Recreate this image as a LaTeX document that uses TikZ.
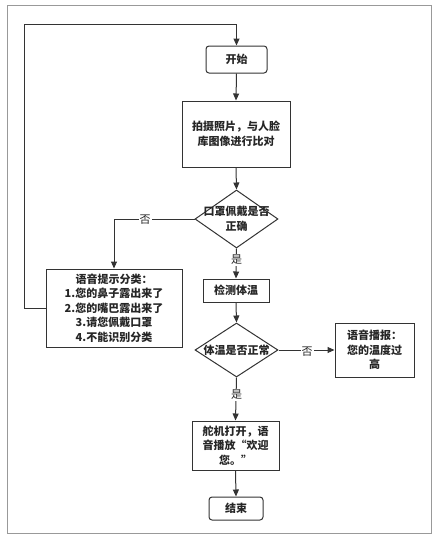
\documentclass[tikz,border=0pt]{standalone}
\usepackage{fontspec}
\setmainfont{Noto Sans CJK SC}
\usetikzlibrary{arrows.meta,shapes.geometric}
\definecolor{ln}{HTML}{333333}
\begin{document}
\begin{tikzpicture}[x=1pt,y=-1pt,
  every node/.style={font=\fontsize{11}{14.5}\selectfont\bfseries, text=black!85},
  box/.style={draw=ln, line width=1pt, inner sep=0pt, align=center},
  rbox/.style={box, rounded corners=3pt},
  dia/.style={draw=ln, line width=1pt, diamond, inner sep=0pt},
  conn/.style={draw=ln, line width=1pt, -{Triangle[length=7pt,width=6pt]}},
  lbl/.style={fill=white, inner sep=1pt, font=\fontsize{11}{13}\selectfont}]
\useasboundingbox (0,0) rectangle (439,541);
\draw[draw=gray!80, line width=1pt] (7,5) rectangle (431,533);

\node[rbox, minimum width=61pt, minimum height=27pt] (start) at (236.5,59.5) {开始};
\node[box, minimum width=108pt, minimum height=66pt] (photo) at (236,134) {拍摄照片，与人脸\\库图像进行比对};
\node[dia, minimum width=83pt, minimum height=58pt] (d1) at (236.5,219) {};
\node (d1t) at (d1.center) [align=center] {口罩佩戴是否\\正确};
\node[box, minimum width=136pt, minimum height=78pt] (voice1) at (114,308) {语音提示分类：\\1.您的鼻子露出来了\\2.您的嘴巴露出来了\\3.请您佩戴口罩\\4.不能识别分类};
\node[box, minimum width=66pt, minimum height=23pt] (meas) at (236,290.5) {检测体温};
\node[dia, minimum width=83pt, minimum height=54pt] (d2) at (236.5,350) {};
\node (d2t) at (d2.center) {体温是否正常};
\node[box, minimum width=79pt, minimum height=54pt] (voice2) at (374.5,350) {语音播报：\\您的温度过\\高};
\node[box, minimum width=87pt, minimum height=49pt] (servo) at (235.5,445.5) {舵机打开，语\\音播放“欢迎\\您。”};
\node[rbox, minimum width=54pt, minimum height=23pt] (end) at (236,508.5) {结束};

\coordinate (c1) at (24,308);
\coordinate (c2) at (24,24);
\coordinate (c3) at (236.5,24);
\coordinate (c4) at (114,219);

\draw[conn] (voice1.west) -- (c1) -- (c2) -- (c3) -- (start.north);
\draw[conn] (start.south) -- (photo.north);
\draw[conn] (photo.south) -- (d1.north);
\draw[conn] (d1.west) -- (c4) -- (voice1.north);
\node[lbl] (no1) at (145,220) {否};
\draw[conn] (d1.south) -- (meas.north);
\node[lbl] (yes1) at (236.5,260) {是};
\draw[conn] (meas.south) -- (d2.north);
\draw[conn] (d2.east) -- (voice2.west);
\node[lbl] (no2) at (307,352) {否};
\draw[conn] (d2.south) -- (servo.north);
\node[lbl] (yes2) at (236.5,395) {是};
\draw[conn] (servo.south) -- (end.north);
\end{tikzpicture}
\end{document}
